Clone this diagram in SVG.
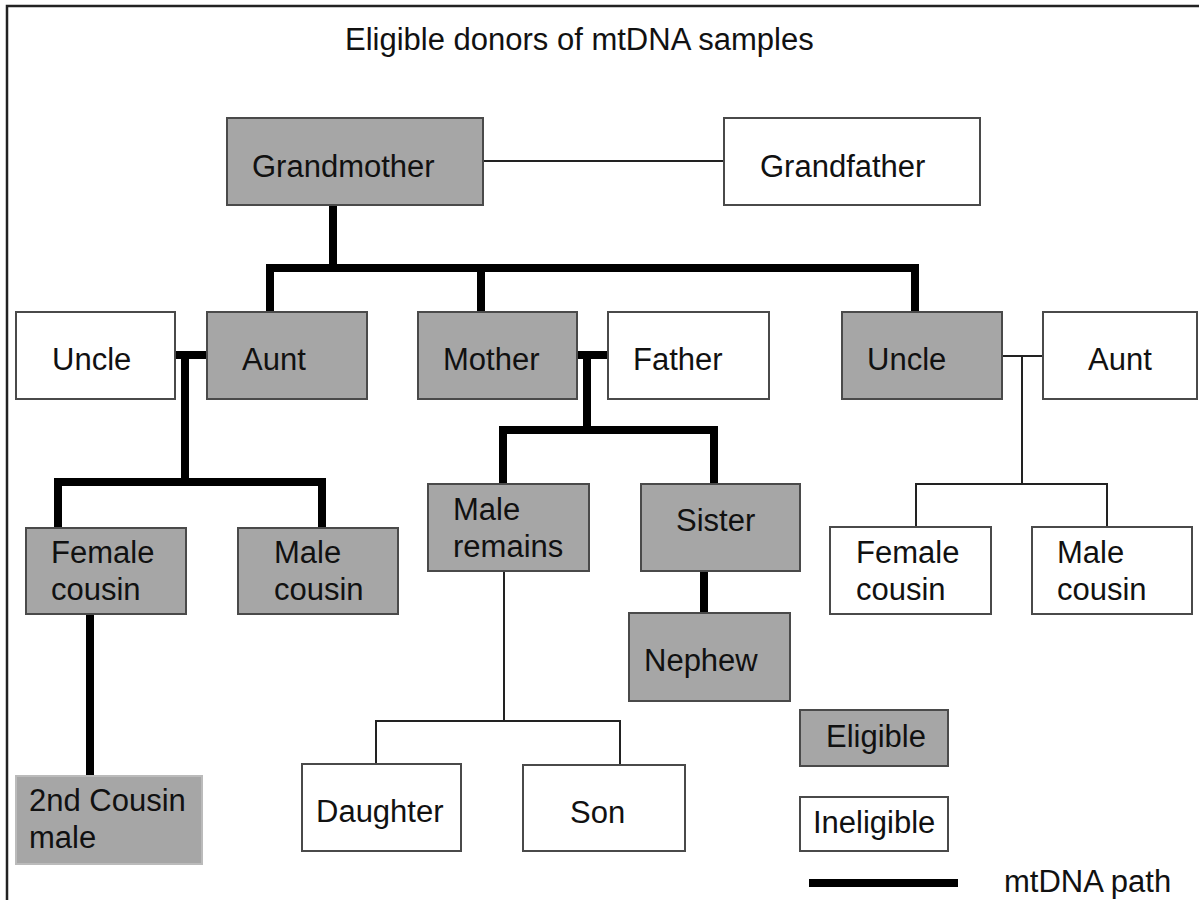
<svg xmlns="http://www.w3.org/2000/svg" width="1199" height="900" viewBox="0 0 1199 900">
<style>
.el{fill:#a6a6a6;stroke:#4a4a4a;stroke-width:2}
.in{fill:#ffffff;stroke:#4a4a4a;stroke-width:2}
.soft{stroke:#bbbbbb}
.t{font-family:"Liberation Sans",Arial,sans-serif;font-size:31px;fill:#111}
.thick{stroke:#000;stroke-width:8;fill:none}
.thin{stroke:#222;stroke-width:2;fill:none}
</style>
<rect x="0" y="0" width="1199" height="900" fill="#fff"/>
<path d="M7,900 V6 H1199" fill="none" stroke="#222" stroke-width="2.5"/>
<text class="t" x="345" y="50">Eligible donors of mtDNA samples</text>
<g id="connectors">
<line class="thin" x1="483" y1="161" x2="724" y2="161"/>
<path class="thick" d="M333,205 V268 M270,312 V268 H915 V312 M481,268 V312"/>
<path class="thick" d="M175,355 H207 M185,355 V482 M58,527 V482 H322 V527"/>
<path class="thick" d="M90,614 V776"/>
<path class="thick" d="M577,355 H608 M587,355 V430 M503,484 V430 H714 V484"/>
<path class="thick" d="M704,571 V613"/>
<path class="thin" d="M504,571 V721 M376,764 V721 H620 V764"/>
<path class="thin" d="M1002,356 H1043 M1022,356 V484 M916,527 V484 H1107 V527"/>
</g>
<g id="grandmother"><rect class="el" x="227" y="118" width="256" height="87"/><text class="t" x="252" y="177">Grandmother</text></g>
<g id="grandfather"><rect class="in" x="724" y="118" width="256" height="87"/><text class="t" x="760" y="177">Grandfather</text></g>
<g id="uncle-left"><rect class="in" x="16" y="312" width="159" height="87"/><text class="t" x="52" y="370">Uncle</text></g>
<g id="aunt-left"><rect class="el" x="207" y="312" width="160" height="87"/><text class="t" x="242" y="370">Aunt</text></g>
<g id="mother"><rect class="el" x="418" y="312" width="159" height="87"/><text class="t" x="443" y="370">Mother</text></g>
<g id="father"><rect class="in" x="608" y="312" width="161" height="87"/><text class="t" x="633" y="370">Father</text></g>
<g id="uncle-right"><rect class="el" x="842" y="312" width="160" height="87"/><text class="t" x="867" y="370">Uncle</text></g>
<g id="aunt-right"><rect class="in" x="1043" y="312" width="154" height="87"/><text class="t" x="1088" y="370">Aunt</text></g>
<g id="female-cousin-left"><rect class="el" x="26" y="528" width="160" height="86"/><text class="t" x="51" y="563">Female</text><text class="t" x="51" y="600">cousin</text></g>
<g id="male-cousin-left"><rect class="el" x="238" y="528" width="160" height="86"/><text class="t" x="274" y="563">Male</text><text class="t" x="274" y="600">cousin</text></g>
<g id="male-remains"><rect class="el" x="428" y="484" width="161" height="87"/><text class="t" x="453" y="520">Male</text><text class="t" x="453" y="557">remains</text></g>
<g id="sister"><rect class="el" x="641" y="484" width="159" height="87"/><text class="t" x="676" y="531">Sister</text></g>
<g id="nephew"><rect class="el" x="629" y="613" width="161" height="88"/><text class="t" x="644" y="671">Nephew</text></g>
<g id="female-cousin-right"><rect class="in" x="830" y="527" width="161" height="87"/><text class="t" x="856" y="563">Female</text><text class="t" x="856" y="600">cousin</text></g>
<g id="male-cousin-right"><rect class="in" x="1032" y="527" width="160" height="87"/><text class="t" x="1057" y="563">Male</text><text class="t" x="1057" y="600">cousin</text></g>
<g id="second-cousin"><rect class="el soft" x="16" y="776" width="186" height="88"/><text class="t" x="29" y="811">2nd Cousin</text><text class="t" x="29" y="848">male</text></g>
<g id="daughter"><rect class="in" x="302" y="764" width="159" height="87"/><text class="t" x="316" y="822">Daughter</text></g>
<g id="son"><rect class="in" x="523" y="765" width="162" height="86"/><text class="t" x="570" y="823">Son</text></g>
<g id="legend">
<rect class="el" x="800" y="710" width="148" height="56"/><text class="t" x="826" y="747">Eligible</text>
<rect class="in" x="800" y="797" width="148" height="54"/><text class="t" x="813" y="833">Ineligible</text>
<line class="thick" x1="809" y1="883" x2="958" y2="883"/>
<text class="t" x="1004" y="892">mtDNA path</text>
</g>
</svg>
